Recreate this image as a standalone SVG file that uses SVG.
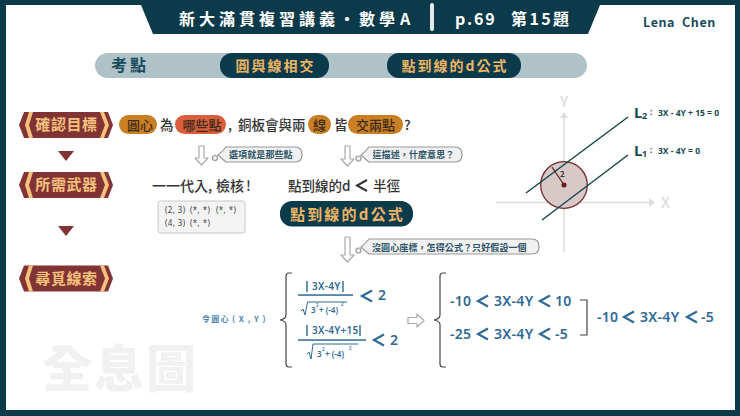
<svg xmlns="http://www.w3.org/2000/svg" width="740" height="416" viewBox="0 0 740 416">
<defs>
<style>
text{font-family:"Noto Sans CJK TC","Noto Sans",sans-serif}
.h{font-weight:700;fill:#fff;font-size:16px}
.gold{font-weight:700;fill:#eeb565;text-anchor:middle}
.tag{font-weight:700;font-size:15px;fill:#f5c27e;text-anchor:middle;letter-spacing:.6px}
.k{font-weight:500;font-size:13.5px;fill:#333}
.o{font-weight:500;font-size:13px;fill:#3a2a1a;text-anchor:middle}
.bub{font-weight:700;font-size:9px;fill:#2c5366;letter-spacing:.1px}
.m{font-weight:600;fill:#2f6a94;font-family:"Noto Sans",sans-serif;letter-spacing:.3px}
.e{font-size:14px}
.lt{fill:none;stroke:#2f6a94;stroke-width:2.2}
.bar{fill:none;stroke:#2f6a94;stroke-width:1.4}
.blk{fill:none;stroke:#444;stroke-width:1.2}
.sq{fill:none;stroke:#2f6a94;stroke-width:1}
.arrow{fill:#fff;stroke:#aaa;stroke-width:1.2;stroke-linejoin:round}
.bb{fill:#f1f1f1;stroke:#999;stroke-width:1.2}
.s{font-size:8px;font-weight:600;fill:#2f6a94;font-family:"Noto Sans",sans-serif}
.sup{font-size:4.5px;font-weight:600;fill:#2f6a94;font-family:"Noto Sans",sans-serif}
.lab{font-weight:700;fill:#174a52;font-family:"Noto Sans",sans-serif}
.axis{stroke:#ddd;stroke-width:1.5;fill:none}
.pt{font-size:8px;fill:#444;font-family:"Noto Sans",sans-serif;letter-spacing:.4px}
</style>
<g id="badge">
<path d="M24 0H108L113 13L108 26H24L19 13Z" fill="#823434"/>
<path d="M29 0H33L29 13L33 26H29L25 13Z" fill="#f7c27e"/>
<path d="M100 0H104L109 13L104 26H100L105 13Z" fill="#f7c27e"/>
</g>
</defs>
<rect width="740" height="416" fill="#0b3a4a"/>
<rect x="6" y="5" width="729" height="405" fill="#fff"/>

<g id="header">
<path d="M141 5L153 34H588L600 5Z" fill="#0b3a4a"/>
<text class="h" x="179" y="25" letter-spacing="4">新大滿貫複習講義・數學</text>
<text class="h" x="400" y="25">A</text>
<rect x="430" y="3" width="4" height="28" rx="2" fill="#e4e8ea"/>
<text class="h" x="455" y="25" letter-spacing="1.8">p.69</text>
<text class="h" x="511" y="25" letter-spacing="2.4">第15題</text>
<text x="643" y="27" font-size="12.500" font-weight="700" fill="#174a5c" font-family="Noto Sans,sans-serif" letter-spacing=".6" xml:space="preserve">Lena  Chen</text>
</g>

<g id="topic-bar">
<rect x="95" y="53" width="492" height="25" rx="12.500" fill="#aec2c7"/>
<text x="111" y="71" font-size="16" font-weight="700" fill="#174a5c" letter-spacing="3">考點</text>
</g>
<g id="topic-1">
<rect x="220" y="53" width="109" height="25" rx="12" fill="#0b3a4a"/>
<text class="gold" x="275.500" y="71" font-size="14" letter-spacing="2">圓與線相交</text>
</g>
<g id="topic-2">
<rect x="387" y="53" width="134" height="25" rx="12" fill="#0b3a4a"/>
<text class="gold" x="455" y="71" font-size="14" letter-spacing="2">點到線的d公式</text>
</g>

<g id="step-1">
<use href="#badge" x="0" y="112"/>
<text class="tag" x="66.500" y="130">確認目標</text>
</g>
<g id="step-2">
<use href="#badge" x="0" y="172"/>
<text class="tag" x="66.500" y="190">所需武器</text>
</g>
<g id="step-3">
<use href="#badge" x="0" y="265.500"/>
<text class="tag" x="66.500" y="284">尋覓線索</text>
</g>

<g id="connectors">
<path d="M58 151H74L66 161Z" fill="#823434"/>
<path d="M58 226H74L66 236Z" fill="#823434"/>
<path class="arrow" d="M199 146H204V158H208L201.500 165L195 158H199Z"/>
<path class="arrow" d="M345 146H350V159H354L347.500 166L341 159H345Z"/>
<path class="arrow" d="M345 237H350V255H354L347.500 262L341 255H345Z"/>
<path class="arrow" d="M408 317.500H417V314L424 320.500L417 327V323.500H408Z"/>
</g>

<g id="question">
<rect x="119" y="115" width="38" height="19" rx="9.500" fill="#c97f22"/>
<text class="o" x="140" y="129.500">圓心</text>
<text class="k" x="160" y="129.500">為</text>
<rect x="175" y="115" width="51" height="19" rx="9.500" fill="#d95f3c"/>
<text class="o" x="202" y="129.500">哪些點</text>
<text class="k" x="228" y="129.500">,</text>
<text class="k" x="238" y="129.500">銅板會與兩</text>
<rect x="308" y="115" width="23" height="19" rx="9.500" fill="#c97f22"/>
<text class="o" x="319.500" y="129.500">線</text>
<text class="k" x="334" y="129.500">皆</text>
<rect x="348" y="115" width="55" height="19" rx="9.500" fill="#c97f22"/>
<text class="o" x="375.500" y="129.500">交兩點</text>
<text class="k" x="404" y="129.500" font-weight="700">?</text>
</g>

<g id="bubble-1">
<circle cx="215" cy="158" r="2.500" class="bb"/>
<path class="bb" d="M226 147H295Q302 147 302 154.500Q302 162 295 162H226Q222 159 218 155Q223 151 226 147Z"/>
<text class="bub" x="229" y="158">選項就是那些點</text>
</g>
<g id="bubble-2">
<circle cx="358.500" cy="158.500" r="2.500" class="bb"/>
<path class="bb" d="M369 147H455Q462 147 462 154.500Q462 162 455 162H369Q365 159 361 155Q366 151 369 147Z"/>
<text class="bub" x="372.500" y="158">這描述，什麼意思？</text>
</g>
<g id="bubble-3">
<circle cx="358.500" cy="250.500" r="2.500" class="bb"/>
<path class="bb" d="M369 239H532Q539 239 539 246.500Q539 254 532 254H369Q365 251 361 247Q366 243 369 239Z"/>
<text class="bub" x="372" y="251">沒圓心座標，怎得公式？只好假設一個</text>
</g>

<g id="weapons">
<text class="k" x="152" y="191" font-size="14" style="font-size:14px">一一代入</text>
<text class="k" x="208" y="191" style="font-size:14px">,</text>
<text class="k" x="216" y="191" style="font-size:14px">檢核</text>
<text class="k" x="246" y="191" style="font-size:14px">!</text>
<rect x="158" y="201" width="87" height="32" rx="2.500" fill="#f3f3f3" stroke="#c8c8c8"/>
<text class="pt" x="165" y="213">(2, 3)</text><text class="pt" x="190" y="213">(*, *)</text><text class="pt" x="216" y="213">(*, *)</text>
<text class="pt" x="165" y="226">(4, 3)</text><text class="pt" x="190" y="226">(*, *)</text>
<text class="k" x="288" y="191">點到線的d</text>
<path d="M367 180L357 185.500L367 191" fill="none" stroke="#333" stroke-width="2"/>
<text class="k" x="373" y="191">半徑</text>
</g>
<g id="formula-tag">
<rect x="280" y="201" width="133" height="25.500" rx="12" fill="#0b3a4a"/>
<text class="gold" x="347.500" y="219.500" font-size="15" letter-spacing="2.200">點到線的d公式</text>
</g>

<g id="graph">
<path class="axis" d="M496 202.500H650"/>
<path d="M649 198L655 202.500L649 207Z" fill="#ddd"/>
<path class="axis" d="M564 252V116"/>
<path d="M560 118L564 112L568 118Z" fill="#ddd"/>
<text x="661" y="208" font-size="15" fill="#ddd" font-family="Noto Sans,sans-serif" font-weight="500">X</text>
<text x="560" y="107" font-size="15" fill="#ddd" font-family="Noto Sans,sans-serif" font-weight="500">Y</text>
<circle cx="564" cy="185" r="23.300" fill="#d8c8c8" stroke="#6f2a2a" stroke-width="1.300"/>
<path d="M526 193L628 117M542 220L628 155" stroke="#17464a" stroke-width="1.500" fill="none"/>
<path d="M552 167L564 185" stroke="#5a2020" stroke-width="1.200"/>
<circle cx="564" cy="185" r="2.500" fill="#6a1a1a"/>
<text x="560" y="176.500" font-size="8" font-weight="700" fill="#333" font-family="Noto Sans,sans-serif">2</text>
<text class="lab" x="634" y="118" font-size="15">L</text>
<text class="lab" x="642" y="119" font-size="9">2</text>
<text class="lab" x="650" y="115" font-size="8">:</text>
<text class="lab" x="658" y="116" font-size="8.500">3X - 4Y + 15 = 0</text>
<text class="lab" x="634" y="156" font-size="15">L</text>
<text class="lab" x="642" y="157" font-size="9">1</text>
<text class="lab" x="650" y="153" font-size="8">:</text>
<text class="lab" x="658" y="154" font-size="8.500">3X - 4Y = 0</text>
</g>

<g id="equations-left">
<text x="202" y="322" font-size="8" font-weight="700" fill="#4a86ae" letter-spacing="1.200">令圓心</text>
<text x="232" y="322" font-size="8" font-weight="700" fill="#4a86ae" letter-spacing="1" xml:space="preserve">( X , Y )</text>
<path class="blk" d="M292 273H289Q286 273 286 276V315Q286 319 280 320Q286 321 286 325V364Q286 367 289 367H292"/>
<text class="m" x="312" y="290" font-size="10">3X-4Y</text>
<path class="bar" d="M307 281V292M343 281V292"/>
<rect x="298" y="294.300" width="55" height="1.500" fill="#2f6a94"/>
<path class="sq" d="M301 311L303 309L305 315L307.500 302H347"/>
<text class="s" x="311" y="313">3</text><text class="sup" x="316" y="307">2</text>
<text class="s" x="319" y="313" xml:space="preserve">+ (-4)</text><text class="sup" x="341" y="306">2</text>
<path d="M372 290.500L362 296L372 301.500" class="lt"/>
<text class="m" x="378" y="300" font-size="14">2</text>
<text class="m" x="312" y="334" font-size="10">3X-4Y+15</text>
<path class="bar" d="M307 325V336M360 325V336"/>
<rect x="298" y="339.300" width="68" height="1.500" fill="#2f6a94"/>
<path class="sq" d="M307 354L309 352L311 359L313 344H358"/>
<text class="s" x="317" y="357">3</text><text class="sup" x="322" y="351">2</text>
<text class="s" x="325" y="357" xml:space="preserve">+ (-4)</text><text class="sup" x="349" y="350">2</text>
<path d="M384 334.500L374 340L384 345.500" class="lt"/>
<text class="m" x="390" y="345" font-size="14">2</text>
</g>

<g id="equations-right">
<path class="blk" d="M446 273H443Q440 273 440 276V315Q440 319 434 320Q440 321 440 325V364Q440 367 443 367H446"/>
<text class="m e" x="450" y="306">-10</text>
<path d="M488 295.500L478 301L488 306.500" class="lt"/>
<text class="m e" x="494" y="306">3X-4Y</text>
<path d="M550 295.500L540 301L550 306.500" class="lt"/>
<text class="m e" x="555" y="306">10</text>
<text class="m e" x="450" y="339">-25</text>
<path d="M488 328.500L478 334L488 339.500" class="lt"/>
<text class="m e" x="494" y="339">3X-4Y</text>
<path d="M550 328.500L540 334L550 339.500" class="lt"/>
<text class="m e" x="555" y="339">-5</text>
<path class="blk" d="M580 300H587V335H580"/>
<text class="m e" x="597" y="322">-10</text>
<path d="M634 311.500L624 317L634 322.500" class="lt"/>
<text class="m e" x="640" y="322">3X-4Y</text>
<path d="M697 311.500L687 317L697 322.500" class="lt"/>
<text class="m e" x="701" y="322">-5</text>
</g>

<text id="watermark" x="42" y="387" font-size="50" font-weight="900" fill="#f1f1f1" letter-spacing="2">全息圖</text>
</svg>
